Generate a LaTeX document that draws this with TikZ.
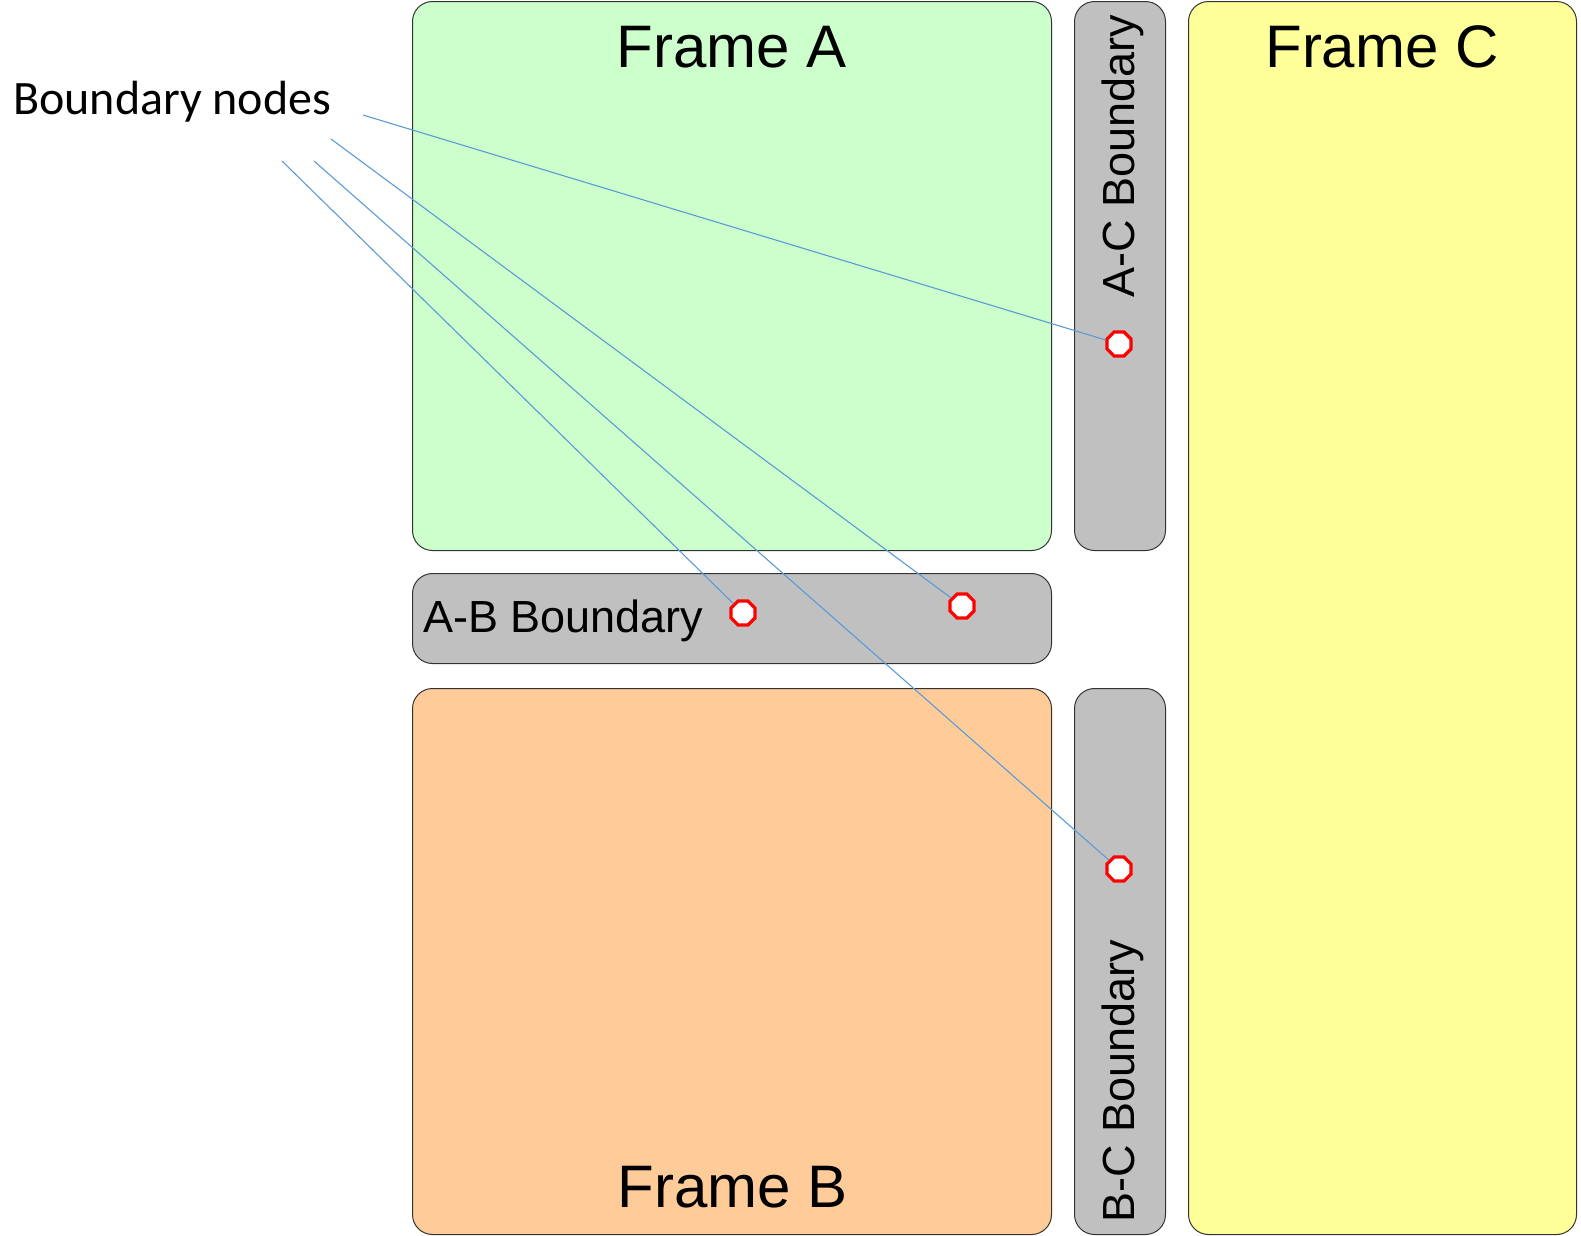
\documentclass[tikz,border=0pt]{standalone}
\usepackage{fontspec}
\setmainfont{Liberation Sans}
\newfontfamily\calibrilike{Carlito}
\usetikzlibrary{shapes.geometric}

\definecolor{frameAfill}{HTML}{CCFFCC}
\definecolor{frameBfill}{HTML}{FFCC99}
\definecolor{frameCfill}{HTML}{FFFF99}
\definecolor{boundfill}{HTML}{C0C0C0}
\definecolor{leader}{HTML}{5B9BD5}

\tikzset{
  panel/.style={draw=black!80, line width=1pt, rounded corners=20pt,
                anchor=north west, inner sep=0pt},
  title/.style={font=\fontsize{60}{60}\selectfont, anchor=base, inner sep=0pt},
  bname/.style={font=\fontsize{45}{45}\selectfont, anchor=base west, inner sep=0pt},
  bnode/.style={regular polygon, regular polygon sides=8, draw=red, fill=white,
                line width=3.2pt, minimum size=26pt, inner sep=0pt},
  leaderline/.style={draw=leader, line width=1.1pt},
}

\begin{document}
\begin{tikzpicture}[x=1pt, y=-1pt]
  \useasboundingbox (0,0) rectangle (1581,1235);

  % frames
  \node[panel, fill=frameAfill, minimum width=639pt, minimum height=549pt] (frameA) at (412,1) {};
  \node[panel, fill=frameBfill, minimum width=639pt, minimum height=546pt] (frameB) at (412,688) {};
  \node[panel, fill=frameCfill, minimum width=388pt, minimum height=1233pt] (frameC) at (1188,1) {};

  % boundary strips
  \node[panel, fill=boundfill, minimum width=639pt, minimum height=90pt] (bandAB) at (412,573) {};
  \node[panel, fill=boundfill, minimum width=91pt, minimum height=549pt] (bandAC) at (1074,1) {};
  \node[panel, fill=boundfill, minimum width=91pt, minimum height=546pt] (bandBC) at (1074,688) {};

  % titles
  \node[title] (titleA) at (732,67) {Frame A};
  \node[title] (titleB) at (733,1207) {Frame B};
  \node[title] (titleC) at (1382,67) {Frame C};

  \node[bname] (nameAB) at (423,632) {A-B Boundary};
  \node[bname, rotate=90] (nameAC) at (1134,298) {A-C Boundary};
  \node[bname, rotate=90] (nameBC) at (1134,1223) {B-C Boundary};

  % boundary nodes
  \node[bnode] (nAC) at (1119,344) {};
  \node[bnode] (nAB1) at (743,613) {};
  \node[bnode] (nAB2) at (962,606) {};
  \node[bnode] (nBC) at (1119,869) {};

  % caption and leader lines
  \node[font=\calibrilike\fontsize{48}{48}\selectfont, anchor=base west, inner sep=0pt]
    (caption) at (13,114) {Boundary nodes};

  \coordinate (s1) at (363,115);
  \coordinate (s2) at (331,139);
  \coordinate (s3) at (314,161);
  \coordinate (s4) at (282,161);

  \draw[leaderline] (s1) -- (nAC);
  \draw[leaderline] (s2) -- (nAB2);
  \draw[leaderline] (s3) -- (nBC);
  \draw[leaderline] (s4) -- (nAB1);
\end{tikzpicture}
\end{document}
